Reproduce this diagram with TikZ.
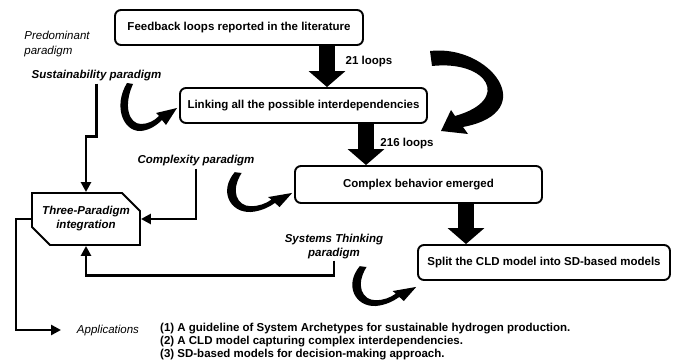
\documentclass[tikz,border=0pt]{standalone}
\usepackage{fontspec}
\setmainfont{Liberation Sans}
\usetikzlibrary{arrows.meta,shapes.misc}
\begin{document}
\begin{tikzpicture}[x=1pt,y=-1pt,
  plain/.style={inner sep=0pt, font=\fontsize{11.5pt}{13.5pt}\selectfont},
  boldtxt/.style={inner sep=0pt, font=\fontsize{11.5pt}{13.5pt}\selectfont\bfseries},
  bolditxt/.style={inner sep=0pt, align=center, font=\fontsize{11.5pt}{14pt}\selectfont\bfseries\itshape},
  itxt/.style={inner sep=0pt, align=left, font=\fontsize{11.5pt}{15pt}\selectfont\itshape},
  stepbox/.style={draw, line width=1.9pt, rounded corners=6pt, inner sep=0pt,
    font=\fontsize{11.5pt}{13.5pt}\selectfont\bfseries},
  tpbox/.style={draw, line width=1.9pt, chamfered rectangle,
    chamfered rectangle corners={north east,south west},
    chamfered rectangle xsep=9pt, chamfered rectangle ysep=9pt,
    minimum width=108pt, minimum height=52pt, inner sep=0pt, align=center,
    font=\fontsize{11.5pt}{14pt}\selectfont\bfseries\itshape},
  conn/.style={line width=2.7pt, -{Triangle[length=10pt,width=10pt]}},
  blockarrow/.style={line width=16pt, -{Triangle[length=16pt,width=36pt]}},
  curl/.pic={
    \fill (-2,-1) .. controls (-16,22) and (-6,48) .. (12,47)
      .. controls (21,46) and (28,41) .. (33,36) -- (37,41) -- (48,24)
      -- (27,29) -- (30,32) .. controls (25,37) and (19,40) .. (12,40)
      .. controls (0,40) and (-6,22) .. (4,0) -- cycle;
  },
]
\useasboundingbox (0,0) rectangle (678,361);

% main chain of steps
\node[stepbox, minimum width=248pt, minimum height=35pt] (b1) at (239,27.5)
  {Feedback loops reported in the literature};
\node[stepbox, minimum width=247pt, minimum height=35pt] (b2) at (303.5,105.5)
  {Linking all the possible interdependencies};
\node[stepbox, minimum width=247pt, minimum height=37pt] (b3) at (418.5,184.5)
  {Complex behavior emerged};
\node[stepbox, minimum width=252pt, minimum height=35pt] (b4) at (544,262.5)
  {Split the CLD model into SD-based models};

% block arrows between the steps
\coordinate (ax1) at (327,0);
\coordinate (ax2) at (366,0);
\coordinate (ax3) at (466,0);
\draw[blockarrow] (b1.south -| ax1) -- (b2.north -| ax1);
\draw[blockarrow] (b2.south -| ax2) -- (b3.north -| ax2);
\draw[blockarrow] (b3.south -| ax3) -- (b4.north -| ax3);
\node[boldtxt] (l21) at (369,62) {21 loops};
\node[boldtxt] (l216) at (407,144) {216 loops};

% large curved arrow from the first step round to the third
\fill (430,51) .. controls (490,44) and (542,112) .. (463,127) -- (468,134)
  -- (441,131) -- (451,110) -- (455,116) .. controls (512,100) and (488,60)
  .. (432,66) -- cycle;

% paradigms
\node[itxt] (pred) at (57,44.5) {Predominant\\paradigm};
\node[bolditxt] (sust) at (96.5,76) {Sustainability paradigm};
\node[bolditxt] (cplx) at (196,161) {Complexity paradigm};
\node[bolditxt] (sys) at (334,247) {Systems Thinking\\paradigm};
\node[tpbox] (tp) at (86,219) {Three-Paradigm\\integration};

% curled arrows from each paradigm into its step
\pic at (129,84) {curl};
\pic[xscale=1.15, yscale=0.83] at (237,173) {curl};
\pic[xscale=1.13, yscale=0.83] at (362,267) {curl};

% paradigm lines into the integration box
\draw[conn, shorten <=2pt] (sust.south) -- ++(0,55) -| (tp.north);
\draw[conn, shorten <=2pt] (cplx.south) |- (tp.east);
\draw[conn, shorten <=1pt] (sys.south) -- ++(0,16) -| (tp.south);

% applications
\coordinate (appin) at (61,330);
\draw[conn] (tp.west) -- ++(-15,0) |- (appin);
\node[plain, font=\fontsize{11.5pt}{13.5pt}\selectfont\itshape] (app) at (108,331) {Applications};
\node[boldtxt, align=left, anchor=north west,
  font=\fontsize{11.5pt}{13pt}\selectfont\bfseries] (list) at (160,322.5)
  {(1) A guideline of System Archetypes for sustainable hydrogen production.\\
   (2) A CLD model capturing complex interdependencies.\\
   (3) SD-based models for decision-making approach.};
\end{tikzpicture}
\end{document}
